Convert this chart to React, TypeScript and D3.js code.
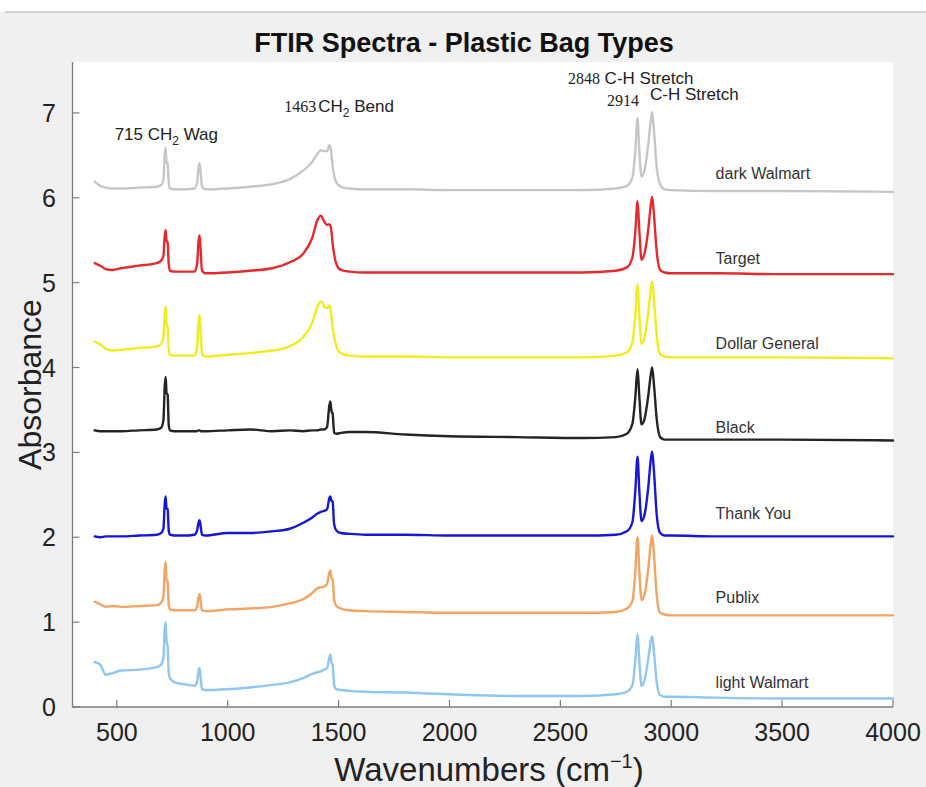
import React, { useEffect } from 'react';
import * as d3 from 'd3';

const wavenumbers = [
  400, 425, 450, 480, 520, 600, 680, 700, 710, 716,
  720, 724, 729, 734, 740, 760, 800, 850, 862, 868,
  873, 878, 884, 900, 1000, 1100, 1200, 1280, 1340, 1380,
  1405, 1420, 1435, 1448, 1458, 1463, 1468, 1473, 1480, 1490,
  1510, 1550, 1620, 1800, 2000, 2300, 2600, 2750, 2800, 2825,
  2838, 2848, 2856, 2866, 2880, 2896, 2908, 2914, 2922, 2935,
  2950, 2970, 3000, 3200, 3500, 4000,
];

const darkWalmart = [
  6.19, 6.14, 6.12, 6.11, 6.11, 6.12, 6.13, 6.15, 6.22, 6.50,
  6.59, 6.42, 6.40, 6.18, 6.11, 6.10, 6.10, 6.11, 6.18, 6.35,
  6.41, 6.30, 6.13, 6.10, 6.11, 6.13, 6.16, 6.22, 6.32, 6.42,
  6.52, 6.56, 6.55, 6.55, 6.62, 6.60, 6.50, 6.38, 6.26, 6.18,
  6.13, 6.11, 6.10, 6.10, 6.09, 6.09, 6.09, 6.11, 6.14, 6.24,
  6.55, 6.94, 6.55, 6.25, 6.33, 6.62, 6.92, 7.01, 6.80, 6.35,
  6.16, 6.10, 6.09, 6.08, 6.08, 6.07,
];

const target = [
  5.23, 5.20, 5.16, 5.15, 5.17, 5.20, 5.23, 5.26, 5.32, 5.55,
  5.62, 5.50, 5.47, 5.22, 5.14, 5.13, 5.13, 5.13, 5.22, 5.48,
  5.56, 5.38, 5.14, 5.11, 5.12, 5.14, 5.17, 5.24, 5.34, 5.52,
  5.74, 5.79, 5.72, 5.68, 5.69, 5.67, 5.60, 5.46, 5.33, 5.22,
  5.15, 5.13, 5.12, 5.12, 5.12, 5.12, 5.12, 5.14, 5.18, 5.30,
  5.60, 5.96, 5.62, 5.27, 5.35, 5.62, 5.92, 6.01, 5.80, 5.35,
  5.15, 5.12, 5.11, 5.11, 5.10, 5.10,
];

const dollarGeneral = [
  4.31, 4.27, 4.22, 4.20, 4.21, 4.23, 4.25, 4.28, 4.35, 4.62,
  4.72, 4.52, 4.48, 4.22, 4.15, 4.14, 4.14, 4.14, 4.25, 4.52,
  4.62, 4.42, 4.16, 4.13, 4.15, 4.17, 4.20, 4.25, 4.36, 4.52,
  4.72, 4.78, 4.72, 4.70, 4.73, 4.70, 4.60, 4.48, 4.36, 4.25,
  4.17, 4.14, 4.13, 4.13, 4.12, 4.12, 4.12, 4.14, 4.18, 4.30,
  4.62, 4.98, 4.62, 4.28, 4.36, 4.64, 4.92, 5.01, 4.80, 4.36,
  4.16, 4.13, 4.12, 4.12, 4.12, 4.11,
];

const black = [
  3.26, 3.25, 3.25, 3.25, 3.25, 3.26, 3.27, 3.29, 3.38, 3.78,
  3.89, 3.70, 3.68, 3.32, 3.26, 3.25, 3.25, 3.25, 3.25, 3.26,
  3.26, 3.25, 3.25, 3.25, 3.26, 3.27, 3.25, 3.26, 3.25, 3.26,
  3.26, 3.27, 3.27, 3.30, 3.55, 3.60, 3.48, 3.46, 3.23, 3.22,
  3.23, 3.24, 3.24, 3.21, 3.19, 3.18, 3.17, 3.18, 3.22, 3.34,
  3.65, 3.98, 3.66, 3.33, 3.40, 3.66, 3.92, 4.00, 3.80, 3.38,
  3.18, 3.15, 3.15, 3.15, 3.15, 3.14,
];

const thankYou = [
  2.01, 2.00, 2.01, 2.01, 2.01, 2.02, 2.03, 2.05, 2.10, 2.40,
  2.48, 2.34, 2.33, 2.08, 2.03, 2.02, 2.02, 2.03, 2.08, 2.17,
  2.20, 2.13, 2.03, 2.02, 2.05, 2.05, 2.07, 2.10, 2.17, 2.23,
  2.28, 2.30, 2.31, 2.33, 2.46, 2.48, 2.43, 2.42, 2.15, 2.08,
  2.05, 2.04, 2.03, 2.03, 2.02, 2.02, 2.02, 2.03, 2.07, 2.18,
  2.55, 2.95, 2.55, 2.19, 2.27, 2.58, 2.92, 3.01, 2.78, 2.25,
  2.05, 2.02, 2.02, 2.01, 2.01, 2.01,
];

const publix = [
  1.24, 1.21, 1.18, 1.19, 1.18, 1.19, 1.20, 1.23, 1.30, 1.62,
  1.71, 1.50, 1.48, 1.20, 1.15, 1.14, 1.14, 1.14, 1.18, 1.29,
  1.33, 1.24, 1.14, 1.13, 1.15, 1.16, 1.18, 1.22, 1.27, 1.34,
  1.40, 1.41, 1.42, 1.45, 1.58, 1.61, 1.52, 1.50, 1.26, 1.19,
  1.16, 1.14, 1.13, 1.12, 1.11, 1.11, 1.11, 1.12, 1.16, 1.25,
  1.60, 2.00, 1.60, 1.26, 1.33, 1.62, 1.93, 2.02, 1.80, 1.30,
  1.11, 1.09, 1.08, 1.08, 1.08, 1.08,
];

const lightWalmart = [
  0.53, 0.50, 0.38, 0.40, 0.43, 0.44, 0.47, 0.50, 0.58, 0.92,
  1.00, 0.78, 0.72, 0.40, 0.34, 0.29, 0.27, 0.25, 0.30, 0.42,
  0.46, 0.34, 0.21, 0.20, 0.21, 0.23, 0.26, 0.29, 0.34, 0.39,
  0.41, 0.42, 0.44, 0.46, 0.58, 0.62, 0.52, 0.50, 0.26, 0.21,
  0.20, 0.19, 0.18, 0.17, 0.15, 0.13, 0.13, 0.15, 0.18, 0.26,
  0.55, 0.86, 0.55, 0.25, 0.32, 0.56, 0.78, 0.83, 0.65, 0.28,
  0.14, 0.12, 0.12, 0.11, 0.10, 0.10,
];

const seriesNames = ['dark Walmart', 'Target', 'Dollar General', 'Black', 'Thank You', 'Publix', 'light Walmart'];
const seriesValues = [darkWalmart, target, dollarGeneral, black, thankYou, publix, lightWalmart];
const seriesColors = ['#c6c6c6', '#e52a2e', '#f0ec20', '#242424', '#1616d6', '#f3a462', '#8fc7f2'];
const labelLevels = [6.22, 5.22, 4.22, 3.23, 2.22, 1.23, 0.22];
const labelWavenumber = 3200;

const xTicks = [500, 1000, 1500, 2000, 2500, 3000, 3500, 4000];
const yTicks = [0, 1, 2, 3, 4, 5, 6, 7];

const W = 926;
const H = 787;
const plot = { left: 72.5, right: 893, top: 62, bottom: 707 };

const SANS = '"Liberation Sans", Arial, Helvetica, sans-serif';
const SERIF = '"Liberation Serif", "Times New Roman", serif';

export default function App() {
  useEffect(() => {
    document.body.style.margin = '0';
  }, []);

  const x = d3.scaleLinear().domain([300, 4000]).range([plot.left, plot.right]);
  const y = d3.scaleLinear().domain([0, 7.6]).range([plot.bottom, plot.top]);

  const line = d3
    .line<number>()
    .x((_, i) => x(wavenumbers[i]))
    .y((d) => y(d))
    .curve(d3.curveMonotoneX);

  const tickLen = 7;
  const axisColor = '#7c7c7c';
  const textColor = '#222';

  return (
    <svg width={W} height={H} style={{ display: 'block', position: 'absolute', left: 0, top: 0 }} fontFamily={SANS}>
      <rect x={0} y={0} width={W} height={H} fill="#f0f0f0" />
      <rect x={0} y={0} width={W} height={12} fill="#ffffff" />
      <line x1={5} x2={W} y1={12} y2={12} stroke="#c4c4c4" strokeWidth={1.5} />

      <rect x={plot.left} y={plot.top} width={plot.right - plot.left} height={plot.bottom - plot.top} fill="#ffffff" />

      {/* title */}
      <text x={464} y={52} textAnchor="middle" fontSize={27} fontWeight="bold" fill="#111">
        FTIR Spectra - Plastic Bag Types
      </text>

      {/* spectra */}
      {seriesValues.map((vals, i) => (
        <path
          key={seriesNames[i]}
          d={line(vals) || ''}
          fill="none"
          stroke={seriesColors[i]}
          strokeWidth={2.4}
          strokeLinejoin="round"
          strokeLinecap="round"
        />
      ))}

      {/* series labels */}
      {seriesNames.map((name, i) => (
        <text key={name} x={x(labelWavenumber)} y={y(labelLevels[i])} fontSize={16} fill="#333">
          {name}
        </text>
      ))}

      {/* peak annotations */}
      <text x={x(490)} y={y(6.68)} fontSize={17} fill={textColor}>
        715 CH
        <tspan fontSize={12} dy={5}>2</tspan>
        <tspan dy={-5}> Wag</tspan>
      </text>
      <text x={x(1255)} y={y(7.01)} fontSize={17} fill={textColor}>
        <tspan fontFamily={SERIF} fontSize={16}>1463</tspan>
        <tspan dx={2}>CH</tspan>
        <tspan fontSize={12} dy={5}>2</tspan>
        <tspan dy={-5}> Bend</tspan>
      </text>
      <text x={x(2534)} y={y(7.34)} fontSize={17} fill={textColor}>
        <tspan fontFamily={SERIF} fontSize={16}>2848</tspan>
        <tspan> C-H Stretch</tspan>
      </text>
      <text x={x(2710)} y={y(7.08)} fontSize={16} fontFamily={SERIF} fill={textColor}>
        2914
      </text>
      <text x={x(2904)} y={y(7.15)} fontSize={17} fill={textColor}>
        C-H Stretch
      </text>

      {/* axes */}
      <line x1={plot.left} x2={plot.left} y1={plot.top} y2={plot.bottom} stroke={axisColor} strokeWidth={1.3} />
      <line x1={plot.left} x2={plot.right} y1={plot.bottom} y2={plot.bottom} stroke={axisColor} strokeWidth={1.3} />

      {xTicks.map((t) => (
        <g key={'x' + t}>
          <line x1={x(t)} x2={x(t)} y1={plot.bottom} y2={plot.bottom - tickLen} stroke={axisColor} strokeWidth={1.2} />
          <text x={x(t)} y={741} textAnchor="middle" fontSize={25} fill={textColor}>
            {t}
          </text>
        </g>
      ))}
      {yTicks.map((t) => (
        <g key={'y' + t}>
          <line x1={plot.left} x2={plot.left + tickLen} y1={y(t)} y2={y(t)} stroke={axisColor} strokeWidth={1.2} />
          <text x={56} y={y(t)} dy="0.36em" textAnchor="end" fontSize={25} fill={textColor}>
            {t}
          </text>
        </g>
      ))}

      {/* axis labels */}
      <text x={489} y={781} textAnchor="middle" fontSize={33} fill={textColor}>
        Wavenumbers (cm
        <tspan fontSize={20} dy={-13}>−1</tspan>
        <tspan dy={13}>)</tspan>
      </text>
      <text
        transform={`translate(41, ${(plot.top + plot.bottom) / 2}) rotate(-90)`}
        textAnchor="middle"
        fontSize={32}
        fill={textColor}
      >
        Absorbance
      </text>
    </svg>
  );
}
